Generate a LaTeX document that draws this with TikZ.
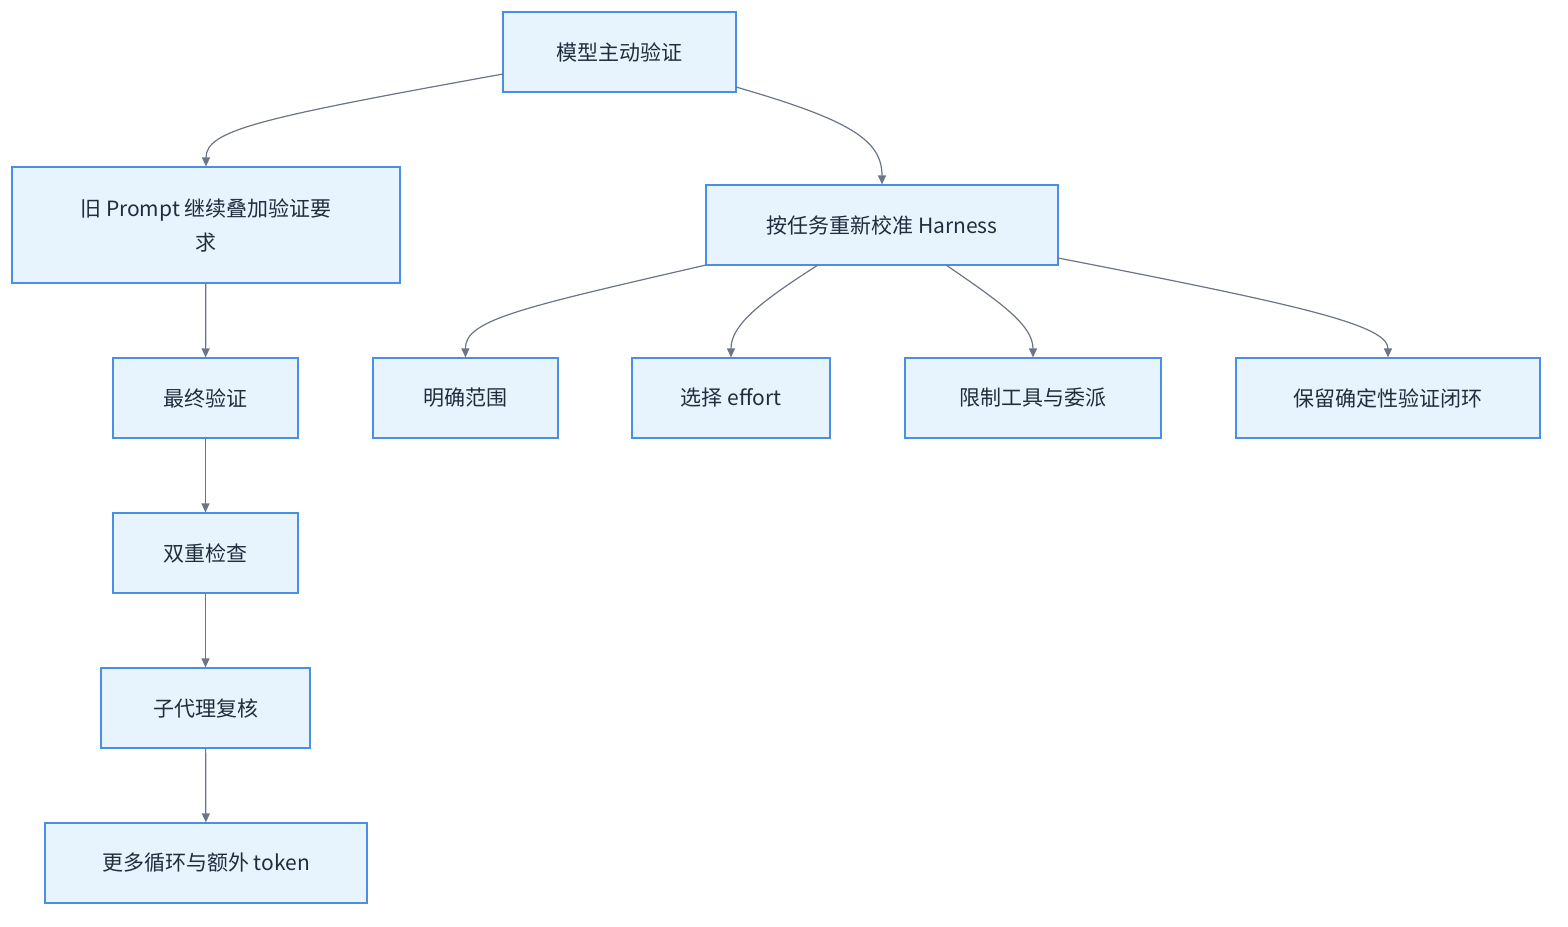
\documentclass[tikz,border=0pt]{standalone}
\usepackage{fontspec}
\setmainfont{Liberation Sans}
\newfontfamily\cjk{Noto Sans CJK SC}
\usetikzlibrary{arrows.meta}
\definecolor{boxfill}{HTML}{E8F4FD}
\definecolor{boxline}{HTML}{4A90E2}
\definecolor{edge}{HTML}{6B7585}
\definecolor{txt}{HTML}{1F2D3D}
\begin{document}
\begin{tikzpicture}[x=1pt,y=-1pt,
  box/.style={draw=boxline,fill=boxfill,line width=1.2pt,inner sep=0pt,text=txt,font=\cjk\fontsize{21}{34}\selectfont,align=center},
  con/.style={draw=edge,line width=1.2pt,-{Triangle[length=9pt,width=8pt]}}]
\useasboundingbox (0,0) rectangle (1568,926);
\newcommand\bx[6]{\node[box,minimum width=#4pt,minimum height=#5pt] (#1) at (#2,#3) {#6};}
\bx{top}{619.5}{52}{233}{80}{模型主动验证}
\bx{old}{206}{225}{388}{116}{旧 Prompt 继续叠加验证要\\求}
\bx{har}{882}{225}{352}{80}{按任务重新校准 Harness}
\bx{a1}{205.5}{398}{185}{80}{最终验证}
\bx{a2}{205.5}{553}{185}{80}{双重检查}
\bx{a3}{205.5}{708}{209}{80}{子代理复核}
\bx{a4}{206}{863}{322}{80}{更多循环与额外 token}
\bx{b1}{465.5}{398}{185}{80}{明确范围}
\bx{b2}{731}{398}{198}{80}{选择 effort}
\bx{b3}{1033}{398}{256}{80}{限制工具与委派}
\bx{b4}{1388}{398}{304}{80}{保留确定性验证闭环}
\coordinate (t1) at (503,74);
\coordinate (t2) at (736,87);
\draw[con] (t1) .. controls (260,118) and (206,130) .. (old.north);
\draw[con] (t2) .. controls (850,120) and (882,140) .. (har.north);
\draw[con] (old) -- (a1);
\draw[con] (a1) -- (a2);
\draw[con] (a2) -- (a3);
\draw[con] (a3) -- (a4);
\coordinate (h1) at (706,265);
\coordinate (h2) at (818,265);
\coordinate (h3) at (946,265);
\coordinate (h4) at (1058,258);
\draw[con] (h1) .. controls (520,308) and (465,320) .. (b1.north);
\draw[con] (h2) .. controls (760,302) and (731,325) .. (b2.north);
\draw[con] (h3) .. controls (1000,302) and (1033,325) .. (b3.north);
\draw[con] (h4) .. controls (1300,305) and (1388,325) .. (b4.north);
\end{tikzpicture}
\end{document}
